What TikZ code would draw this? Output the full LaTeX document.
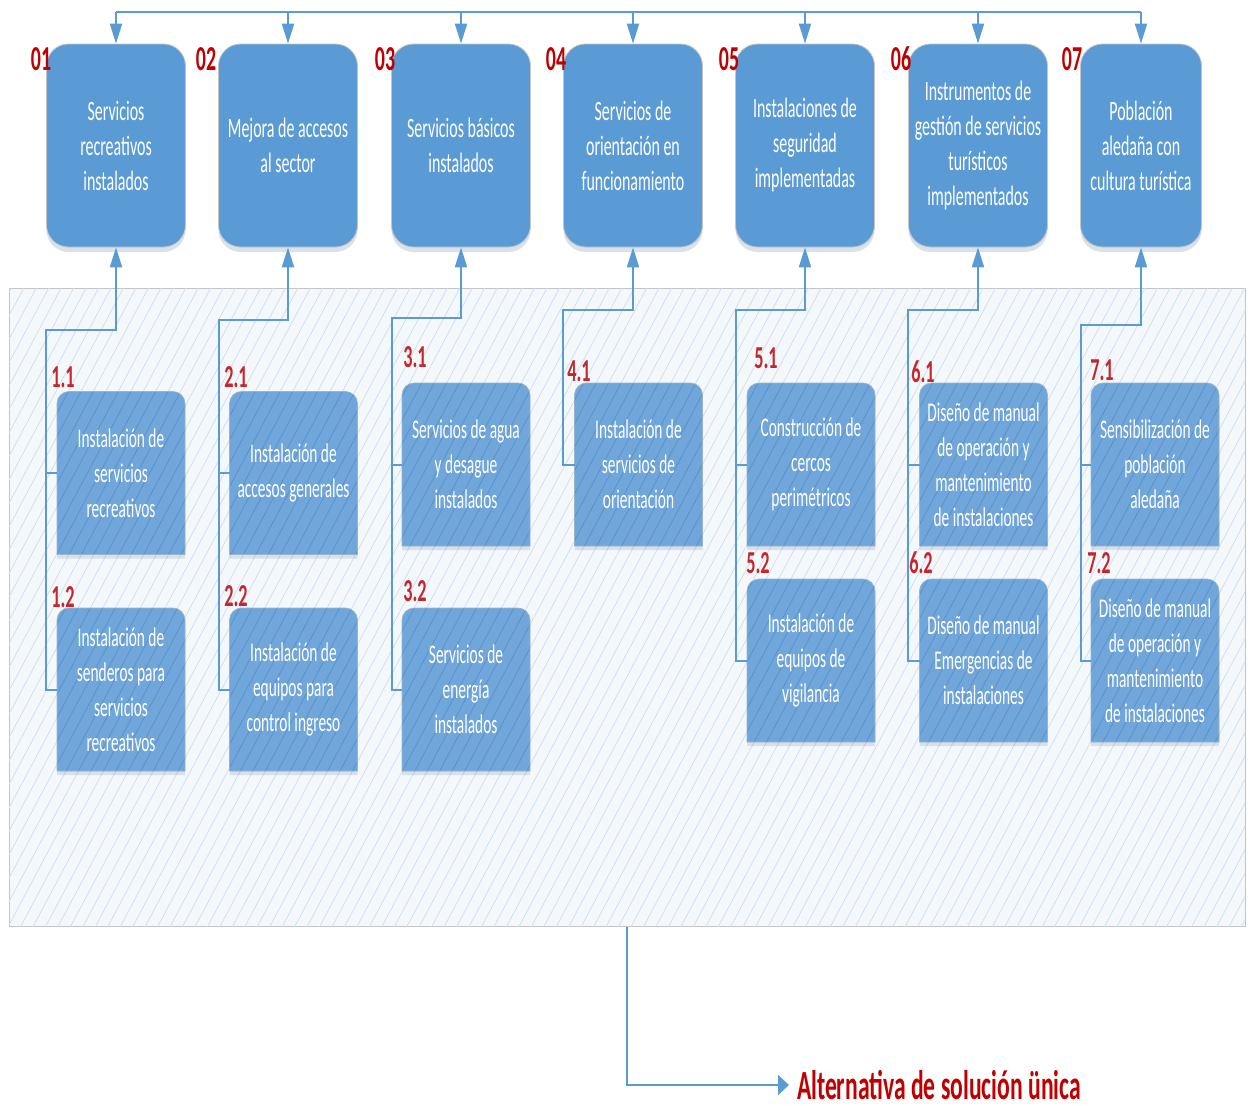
\documentclass[tikz,border=0pt]{standalone}
\usepackage{fontspec}
\setmainfont{Carlito}[FakeStretch=0.57]
\usetikzlibrary{arrows.meta,patterns.meta,shadows,positioning}

\definecolor{azul}{HTML}{5B9BD5}
\definecolor{azulhijo}{HTML}{71A6DA}
\definecolor{rayahijo}{HTML}{5A93CD}
\definecolor{fondo}{HTML}{F5F8FB}
\definecolor{rayafondo}{HTML}{CFDFF1}
\definecolor{bordegris}{HTML}{C4C4C4}
\definecolor{rojo}{HTML}{C00000}
\definecolor{rojosub}{HTML}{C4282D}

\tikzset{
  meta/.style={rectangle, rounded corners=22pt, fill=azul, draw=bordegris, line width=0.8pt,
    minimum width=139pt, minimum height=203pt, inner sep=0pt, text=white, align=center,
    font=\fontsize{28}{35}\selectfont,
    drop shadow={shadow xshift=0pt, shadow yshift=-5pt, opacity=0.18, fill=azul!60!black}},
  hijo/.style={rectangle, minimum width=128pt, minimum height=163pt, inner sep=0pt, outer sep=0pt,
    text=white, align=center, font=\fontsize{27}{35}\selectfont},
  hijofondo/.style={fill=azulhijo, rounded corners=12pt,
    drop shadow={shadow xshift=0pt, shadow yshift=-4pt, opacity=0.15, fill=azul!60!black},
    postaction={pattern color=rayahijo, pattern={Lines[angle=62,distance=11pt,line width=0.9pt]}}},
  hijoborde/.style={draw=azul!40!bordegris, line width=0.7pt, rounded corners=12pt},
  num/.style={text=rojo, font=\bfseries\fontsize{35}{35}\selectfont, inner sep=0pt},
  subnum/.style={text=rojosub, font=\bfseries\fontsize{32}{32}\selectfont, inner sep=0pt},
  conn/.style={draw=azul, line width=2pt},
  flechav/.style={conn, -{Triangle[length=20pt,width=12pt]}},
  flechah/.style={conn, -{Triangle[length=11pt,width=20pt]}},
  zona/.style={rectangle, draw=bordegris, line width=1pt, fill=fondo,
    minimum width=1236pt, minimum height=638pt,
    postaction={pattern color=rayafondo, pattern={Lines[angle=62,distance=11pt,line width=0.8pt]}}},
  alt/.style={text=rojo, font=\bfseries\fontsize{41.5}{41.5}\selectfont, inner xsep=8pt, inner ysep=0pt,
    outer sep=0pt, anchor=west}
}

% caja de actividad: nombre, x, y, texto
\newcommand{\hijobox}[4]{%
  \path[hijofondo] (#2-64,#3+81.5) -- (#2-64,#3-81.5) -- (#2+64,#3-81.5) -- (#2+64,#3+81.5);
  \draw[hijoborde] (#2-64,#3+81.5) -- (#2-64,#3-81.5) -- (#2+64,#3-81.5) -- (#2+64,#3+81.5)
    (#2-64,#3+81.5) -- (#2+64,#3+81.5);
  \node[hijo] (#1) at (#2,#3) {#4};}

\begin{document}
\begin{tikzpicture}[x=1pt, y=-1pt]
    \fill[white] (0,0) rectangle (1248,1106);
    \useasboundingbox (0,0) rectangle (1248,1106);

    % zona de actividades
    \node[zona] (zona) at (627,607) {};

    % componentes
    \node[meta] (m1) at (116,145.5) {Servicios\\recreativos\\instalados};
    \node[meta] (m2) at (288,145.5) {Mejora de accesos\\al sector};
    \node[meta] (m3) at (461,145.5) {Servicios básicos\\instalados};
    \node[meta] (m4) at (633,145.5) {Servicios de\\orientación en\\funcionamiento};
    \node[meta] (m5) at (805,145.5) {Instalaciones de\\seguridad\\implementadas};
    \node[meta] (m6) at (978,145.5) {Instrumentos de\\gestión de servicios\\turísticos\\implementados};
    \node[meta, minimum width=121pt] (m7) at (1141,145.5) {Población\\aledaña con\\cultura turística};

    \node[num] (n1) at (41,59) {01};
    \node[num] (n2) at (206,59) {02};
    \node[num] (n3) at (385,59) {03};
    \node[num] (n4) at (556,59) {04};
    \node[num] (n5) at (729,59) {05};
    \node[num] (n6) at (901,59) {06};
    \node[num] (n7) at (1072,59) {07};

    % actividades
    \hijobox{a11}{121}{473}{Instalación de\\servicios\\recreativos}
    \hijobox{a12}{121}{689.5}{Instalación de\\senderos para\\servicios\\recreativos}
    \hijobox{a21}{293.5}{473}{Instalación de\\accesos generales}
    \hijobox{a22}{293.5}{689.5}{Instalación de\\equipos para\\control ingreso}
    \hijobox{a31}{466}{464.5}{Servicios de agua\\y desague\\instalados}
    \hijobox{a32}{466}{689.5}{Servicios de\\energía\\instalados}
    \hijobox{a41}{638.5}{464.5}{Instalación de\\servicios de\\orientación}
    \hijobox{a51}{811}{464.5}{Construcción de\\cercos\\perimétricos}
    \hijobox{a52}{811}{660.5}{Instalación de\\equipos de\\vigilancia}
    \hijobox{a61}{983.5}{464.5}{Diseño de manual\\de operación y\\mantenimiento\\de instalaciones}
    \hijobox{a62}{983.5}{660.5}{Diseño de manual\\Emergencias de\\instalaciones}
    \hijobox{a71}{1155}{464.5}{Sensibilización de\\población\\aledaña}
    \hijobox{a72}{1155}{660.5}{Diseño de manual\\de operación y\\mantenimiento\\de instalaciones}

    \node[subnum] (n11) at (63,377) {1.1};
    \node[subnum] (n12) at (63,597) {1.2};
    \node[subnum] (n21) at (236,377) {2.1};
    \node[subnum] (n22) at (236,596) {2.2};
    \node[subnum] (n31) at (415,357) {3.1};
    \node[subnum] (n32) at (415,591) {3.2};
    \node[subnum] (n41) at (579,371) {4.1};
    \node[subnum] (n51) at (766,358) {5.1};
    \node[subnum] (n52) at (758,563) {5.2};
    \node[subnum] (n61) at (923,372) {6.1};
    \node[subnum] (n62) at (921,563) {6.2};
    \node[subnum] (n71) at (1102,370) {7.1};
    \node[subnum] (n72) at (1099,563) {7.2};

    % barra superior
    \coordinate (barra) at (0,12);
    \draw[conn] (m1.north |- barra) -- (m7.north |- barra);
    \foreach \i in {1,...,7}
        \draw[flechav] (m\i.north |- barra) -- (m\i.north);

    % codos de cada columna
    \coordinate (k1) at (46,330);
    \coordinate (k2) at (219,320);
    \coordinate (k3) at (392,318);
    \coordinate (k4) at (563,310);
    \coordinate (k5) at (736,310);
    \coordinate (k6) at (908,310);
    \coordinate (k7) at (1081,325);

    \draw[flechav] (a11.west) -| (k1) -| (m1.south);
    \draw[conn] (a12.west) -| (k1);
    \draw[flechav] (a21.west) -| (k2) -| (m2.south);
    \draw[conn] (a22.west) -| (k2);
    \draw[flechav] (a31.west) -| (k3) -| (m3.south);
    \draw[conn] (a32.west) -| (k3);
    \draw[flechav] (a41.west) -| (k4) -| (m4.south);
    \draw[flechav] (a51.west) -| (k5) -| (m5.south);
    \draw[conn] (a52.west) -| (k5);
    \draw[flechav] (a61.west) -| (k6) -| (m6.south);
    \draw[conn] (a62.west) -| (k6);
    \draw[flechav] (a71.west) -| (k7) -| (m7.south);
    \draw[conn] (a72.west) -| (k7);

    % resultado
    \node[alt] (alt) at (789,1085) {Alternativa de solución ünica};
    \draw[flechah] (zona.south) |- (alt.west);
\end{tikzpicture}
\end{document}
